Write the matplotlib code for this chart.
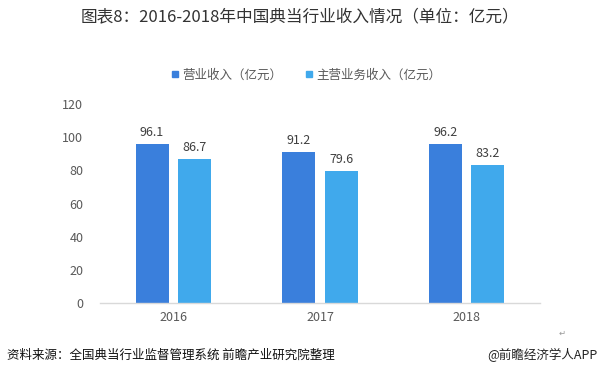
import matplotlib
matplotlib.use("Agg")
import matplotlib.pyplot as plt
from matplotlib.lines import Line2D
import numpy as np

plt.rcParams['font.family'] = ['Noto Sans CJK SC', 'DejaVu Sans']

years = ['2016', '2017', '2018']
series_names = ['营业收入（亿元）', '主营业务收入（亿元）']
revenue = [96.1, 91.2, 96.2]
main_revenue = [86.7, 79.6, 83.2]
yticks = [0, 20, 40, 60, 80, 100, 120]

c1 = '#3a7fdc'
c2 = '#40a9ec'
txt = '#595959'

fig = plt.figure(figsize=(6, 3.87), dpi=100)
ax = fig.add_axes([0.1667, 0.217, 0.7333, 0.514])

x = np.arange(len(years))
w = 0.225
off = 0.145
b1 = ax.bar(x - off, revenue, width=w, color=c1)
b2 = ax.bar(x + off, main_revenue, width=w, color=c2)

for bars, vals in ((b1, revenue), (b2, main_revenue)):
    for r, v in zip(bars, vals):
        ax.text(r.get_x() + r.get_width() / 2, v + 3, f'{v:.1f}',
                ha='center', va='bottom', fontsize=9, color='#404040')

ax.set_xlim(-0.5, 2.5)
ax.set_ylim(0, 120)
ax.set_yticks(yticks)
ax.set_yticklabels([str(t) for t in yticks])
ax.set_xticks(x)
ax.set_xticklabels(years)
ax.tick_params(axis='both', length=0, labelsize=9, colors=txt)
ax.tick_params(axis='y', pad=12)
ax.tick_params(axis='x', pad=6)
for s in ('top', 'right', 'left'):
    ax.spines[s].set_visible(False)
ax.spines['bottom'].set_color('#d9d9d9')
ax.spines['bottom'].set_linewidth(1)

fig.text(0.5, 0.955, '图表8：2016-2018年中国典当行业收入情况（单位：亿元）',
         ha='center', va='center', fontsize=12, color='#333333')

handles = [Line2D([], [], marker='s', linestyle='none', markersize=5, color=c1),
           Line2D([], [], marker='s', linestyle='none', markersize=5, color=c2)]
fig.legend(handles, series_names, loc='center', bbox_to_anchor=(0.51, 0.806),
           ncol=2, frameon=False, fontsize=9, labelcolor=txt,
           handlelength=0.6, handletextpad=0.3, columnspacing=1.8)

fig.text(0.012, 0.083, '资料来源：全国典当行业监督管理系统 前瞻产业研究院整理',
         ha='left', va='center', fontsize=9, color='#111111', style='italic')
fig.text(0.995, 0.083, '@前瞻经济学人APP', ha='right', va='center',
         fontsize=9, color='#222222')
fig.text(0.937, 0.14, '↵', ha='center', va='center', fontsize=6,
         color='#999999', family='DejaVu Sans')

fig.savefig('out.png', dpi=100, facecolor='white')
